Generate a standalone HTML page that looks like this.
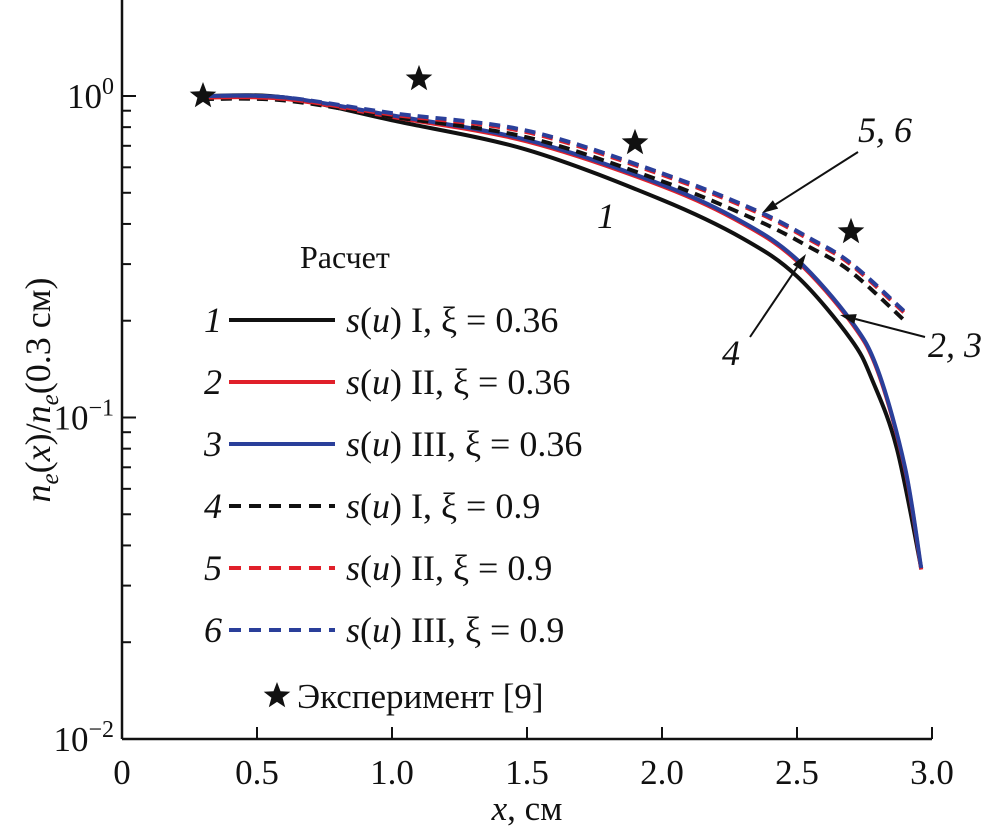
<!DOCTYPE html>
<html><head><meta charset="utf-8"><style>
body{margin:0;background:#fff;}
svg{display:block;}
text{font-family:"Liberation Serif","DejaVu Serif",serif;}
</style></head><body>
<svg id="chart" width="992" height="829" viewBox="0 0 992 829">
<g id="axes"></g>
<g id="series"></g>
<g id="legend"></g>
</svg>
<script>
const xTicks=[0,0.5,1.0,1.5,2.0,2.5,3.0];
const xTickLabels=["0","0.5","1.0","1.5","2.0","2.5","3.0"];
const yDecades=[-2,-1,0];
const xs1=[0.3,0.6,1.0,1.5,2.0,2.3,2.5,2.7,2.78,2.87,2.96];
const ys1=[1.0,0.99,0.84,0.68,0.475,0.36,0.275,0.175,0.13,0.08,0.034];
const xs23=[0.3,0.6,1.0,1.5,2.0,2.3,2.5,2.7,2.8,2.9,2.96];
const ys23=[1.0,0.99,0.87,0.73,0.53,0.405,0.31,0.2,0.14,0.07,0.034];
const xsD=[0.3,0.6,1.0,1.5,2.0,2.35,2.55,2.7,2.9];
const ys4=[1.0,0.99,0.88,0.76,0.555,0.42,0.345,0.29,0.204];
const ys56=[1.0,0.99,0.885,0.78,0.575,0.44,0.36,0.302,0.213];
const starX=[0.3,1.1,1.9,2.7];
const starY=[1.0,1.13,0.715,0.378];

const NS="http://www.w3.org/2000/svg";
const X0=122,XS=270,Y0=96,DEC=321.5;
const sx=v=>X0+v*XS;
const sy=v=>Y0-Math.log10(v)*DEC;
const SERIF="Liberation Serif, DejaVu Serif, serif";
function mk(tag,attrs,parent,text){const e=document.createElementNS(NS,tag);for(const k in attrs)e.setAttribute(k,attrs[k]);if(text!==undefined)e.textContent=text;parent.appendChild(e);return e;}
const axes=document.getElementById('axes'),ser=document.getElementById('series'),leg=document.getElementById('legend');

let a=mk('line',{x1:X0,y1:0,x2:X0,y2:739,stroke:'#111','stroke-width':2.5},axes);


a=mk('line',{x1:X0,y1:739,x2:932,y2:739,stroke:'#111','stroke-width':2.5},axes);


xTicks.forEach((t,i)=>{
  if(t>0){const l=mk('line',{x1:sx(t),y1:739,x2:sx(t),y2:727,stroke:'#111','stroke-width':2},axes);
  
  }
  const tx=mk('text',{x:sx(t),y:784,'font-size':35,'text-anchor':'middle',fill:'#111','font-family':SERIF},axes,xTickLabels[i]);
  
  
});
yDecades.forEach(d=>{
  const y=sy(Math.pow(10,d));
  const l=mk('line',{x1:X0,y1:y,x2:X0+14,y2:y,stroke:'#111','stroke-width':2},axes);
  
  
  const t=mk('text',{x:X0-8,y:y+12,'font-size':35,'text-anchor':'end',fill:'#111','font-family':SERIF},axes);
  
  
  mk('tspan',{},t,'10');
  mk('tspan',{dy:-14,'font-size':24},t,d===0?'0':'−'+Math.abs(d));
  if(d<0){for(let m=2;m<=9;m++){const yy=sy(m*Math.pow(10,d));
    const mt=mk('line',{x1:X0,y1:yy,x2:X0+9,y2:yy,stroke:'#111','stroke-width':2},axes);
    
    }}
});
let xl=mk('text',{x:527,y:820,'font-size':35,'text-anchor':'middle',fill:'#111','font-family':SERIF},axes);


xl.innerHTML='<tspan font-style="italic">x</tspan>, см';
let yl=mk('text',{transform:'translate(50,390) rotate(-90)','font-size':36,'text-anchor':'middle',fill:'#111','font-family':SERIF},axes);


yl.innerHTML='<tspan font-style="italic">n</tspan><tspan font-style="italic" font-size="25" dy="8">e</tspan><tspan dy="-8">(</tspan><tspan font-style="italic">x</tspan>)/<tspan font-style="italic">n</tspan><tspan font-style="italic" font-size="25" dy="8">e</tspan><tspan dy="-8">(0.3 см)</tspan>';

function path(xs,ys){
  const P=xs.map((x,i)=>[sx(x),sy(ys[i])]);
  let d='M'+P[0][0].toFixed(1)+','+P[0][1].toFixed(1);
  for(let i=0;i<P.length-1;i++){
    const p0=P[Math.max(0,i-1)],p1=P[i],p2=P[i+1],p3=P[Math.min(P.length-1,i+2)];
    const c1=[p1[0]+(p2[0]-p0[0])/6,p1[1]+(p2[1]-p0[1])/6];
    const c2=[p2[0]-(p3[0]-p1[0])/6,p2[1]-(p3[1]-p1[1])/6];
    d+='C'+c1.map(v=>v.toFixed(1)).join(',')+' '+c2.map(v=>v.toFixed(1)).join(',')+' '+p2.map(v=>v.toFixed(1)).join(',');
  }
  return d;
}
function curve(xs,ys,color,dash,name,off){
  const p=mk('path',{d:path(xs,ys),fill:'none',stroke:color,'stroke-width':4,'stroke-dasharray':dash||'none',transform:'translate(0,'+(off||0)+')'},ser);
  
  
}
curve(xs1,ys1,'#111',null,'curve-1');
curve(xs23,ys23,'#e0202a',null,'curve-2',1.5);
curve(xs23,ys23,'#2a3f9a',null,'curve-3');
curve(xsD,ys4,'#111','11,7','curve-4',3);
curve(xsD,ys56,'#e0202a','11,7','curve-5',1.5);
curve(xsD,ys56,'#2a3f9a','11,7','curve-6');

function star(cx,cy,r){let pts=[];for(let i=0;i<10;i++){const rr=i%2?r*0.42:r;const ang=-Math.PI/2+i*Math.PI/5;pts.push((cx+rr*Math.cos(ang)).toFixed(1)+','+(cy+rr*Math.sin(ang)).toFixed(1));}return pts.join(' ');}
starX.forEach((x,i)=>{
  const s=mk('polygon',{points:star(sx(x),sy(starY[i]),14),fill:'#111'},ser);
  
  
});

function ann(txt,x,y,name){const t=mk('text',{x:x,y:y,'font-size':36,'font-style':'italic',fill:'#111','font-family':SERIF},ser,txt);
  
  }
function arrow(x1,y1,x2,y2,name){
  const g=mk('g',{},ser);
  
  
  const ang=Math.atan2(y2-y1,x2-x1);
  const bx=x2-16*Math.cos(ang),by=y2-16*Math.sin(ang);
  mk('line',{x1:x1,y1:y1,x2:bx,y2:by,stroke:'#111','stroke-width':2},g);
  const px=-Math.sin(ang)*5,py=Math.cos(ang)*5;
  mk('polygon',{points:`${x2},${y2} ${bx+px},${by+py} ${bx-px},${by-py}`,fill:'#111'},g);
}
ann('1',597,228,'label-1');
ann('5, 6',858,142,'label-5-6');
arrow(858,152,762,213,'arrow-5-6');
ann('4',722,365,'label-4');
arrow(750,337,806,254,'arrow-4');
ann('2, 3',928,357,'label-2-3');
arrow(925,337,840,315,'arrow-2-3');

let lt=mk('text',{x:300,y:268,'font-size':32,'font-family':'Liberation Sans, sans-serif',fill:'#111'},leg,'Расчет');


const legNums=['1','2','3','4','5','6'];
const legColors=['#111','#e0202a','#2a3f9a','#111','#e0202a','#2a3f9a'];
const legText=['I, ξ = 0.36','II, ξ = 0.36','III, ξ = 0.36','I, ξ = 0.9','II, ξ = 0.9','III, ξ = 0.9'];
legNums.forEach((n,i)=>{
  const y=320+i*62;
  const g=mk('g',{},leg);
  
  
  mk('text',{x:213,y:y+12,'font-size':36,'font-style':'italic','text-anchor':'middle',fill:'#111','font-family':SERIF},g,n);
  mk('line',{x1:229,y1:y,x2:335,y2:y,stroke:legColors[i],'stroke-width':4,'stroke-dasharray':i>=3?'12,8':'none'},g);
  const t=mk('text',{x:346,y:y+12,'font-size':36,fill:'#111','font-family':SERIF},g);
  t.innerHTML='<tspan font-style="italic">s</tspan>(<tspan font-style="italic">u</tspan>) '+legText[i];
});
const ge=mk('g',{},leg);


mk('polygon',{points:star(277,696,14),fill:'#111'},ge);
mk('text',{x:297,y:708,'font-size':35,fill:'#111','font-family':SERIF},ge,'Эксперимент [9]');
</script>
</body></html>
